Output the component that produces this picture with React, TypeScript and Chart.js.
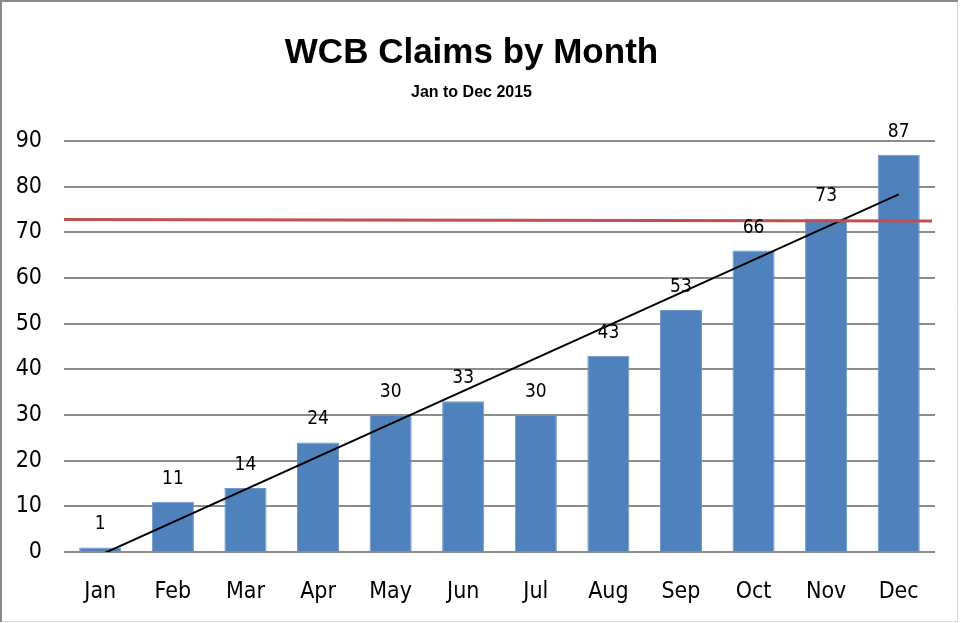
import React, { useEffect, useRef } from "react";
import { Chart, registerables } from "chart.js";

Chart.register(...registerables);

const months = ["Jan", "Feb", "Mar", "Apr", "May", "Jun", "Jul", "Aug", "Sep", "Oct", "Nov", "Dec"];
const claims = [1, 11, 14, 24, 30, 33, 30, 43, 53, 66, 73, 87];
// trend line end points (Jan, Dec)
const trendLine = [-0.65, null, null, null, null, null, null, null, null, null, null, 78.3];
// red reference line (left value, right value)
const targetLine = [72.8, 72.5];
const yTicks = [0, 10, 20, 30, 40, 50, 60, 70, 80, 90];

const NARROW = "'Liberation Sans Narrow', 'Arial Narrow', 'DejaVu Sans Condensed', sans-serif";
const SANS = "'Liberation Sans', Arial, sans-serif";

export default function App() {
  const ref = useRef<HTMLCanvasElement | null>(null);
  useEffect(() => {
    const canvas = ref.current!;
    const frame = {
      id: "frame",
      beforeDraw(chart: any) {
        const c = chart.ctx;
        c.save();
        c.fillStyle = "#ffffff";
        c.fillRect(0, 0, chart.width, chart.height);
        c.strokeStyle = "#d9d9d9";
        c.lineWidth = 1;
        c.beginPath();
        c.moveTo(957.5, 1);
        c.lineTo(957.5, 621.5);
        c.lineTo(1, 621.5);
        c.stroke();
        c.strokeStyle = "#8a8a8a";
        c.lineWidth = 2;
        c.beginPath();
        c.moveTo(1, 622);
        c.lineTo(1, 1);
        c.lineTo(958, 1);
        c.stroke();
        c.restore();
      },
    };
    const extras = {
      id: "extras",
      afterDatasetsDraw(chart: any) {
        const c = chart.ctx;
        const y = chart.scales.y;
        const area = chart.chartArea;
        c.save();
        c.strokeStyle = "#C0504D";
        c.lineWidth = 3;
        c.beginPath();
        c.moveTo(area.left, y.getPixelForValue(targetLine[0]));
        c.lineTo(area.right - 3, y.getPixelForValue(targetLine[1]));
        c.stroke();
        const meta = chart.getDatasetMeta(0);
        c.fillStyle = "#000000";
        c.font = "19px " + NARROW;
        c.textAlign = "center";
        c.textBaseline = "alphabetic";
        meta.data.forEach((el: any, i: number) => {
          c.fillText(String(claims[i]), el.x, el.y - 18);
        });
        c.restore();
      },
    };
    const chart = new Chart(canvas, {
      type: "bar",
      data: {
        labels: months,
        datasets: [
          {
            type: "bar",
            data: claims,
            backgroundColor: "#4F81BD",
            borderColor: "#6F96C8",
            borderWidth: 1,
            barPercentage: 0.58,
            categoryPercentage: 1,
            order: 2,
          },
          {
            type: "line",
            data: trendLine as any,
            borderColor: "#000000",
            borderWidth: 2,
            pointRadius: 0,
            spanGaps: true,
            clip: 0,
            order: 1,
          } as any,
        ],
      },
      options: {
        responsive: false,
        animation: false,
        layout: { padding: { left: 8, right: 26, top: 0, bottom: 0 } },
        plugins: {
          legend: { display: false },
          tooltip: { enabled: false },
          title: {
            display: true,
            text: "WCB Claims by Month",
            color: "#000000",
            font: { family: SANS, size: 35, weight: "bold", lineHeight: 1 },
            padding: { top: 36, bottom: 0 },
          },
          subtitle: {
            display: true,
            text: "Jan to Dec 2015",
            color: "#000000",
            font: { family: SANS, size: 16, weight: "bold", lineHeight: 1 },
            padding: { top: 13.5, bottom: 40.5 },
          },
        },
        scales: {
          x: {
            grid: { display: false },
            border: { display: false },
            ticks: { color: "#000000", font: { family: NARROW, size: 23 }, padding: 18 },
            afterFit: (s: any) => {
              s.height = 71;
            },
          },
          y: {
            min: 0,
            max: 90,
            afterBuildTicks: (s: any) => {
              s.ticks = yTicks.map((v) => ({ value: v }));
            },
            grid: { color: "#8c8c8c", lineWidth: 2, drawTicks: false },
            border: { display: false },
            ticks: { color: "#000000", font: { family: NARROW, size: 23 }, padding: 22 },
            afterFit: (s: any) => {
              s.width = 56;
            },
          },
        },
      },
      plugins: [frame, extras],
    });
    return () => chart.destroy();
  }, []);
  return (
    <div style={{ position: "absolute", left: 0, top: 0, width: 961, height: 623 }}>
      <canvas ref={ref} width={961} height={623} style={{ display: "block" }} />
    </div>
  );
}
